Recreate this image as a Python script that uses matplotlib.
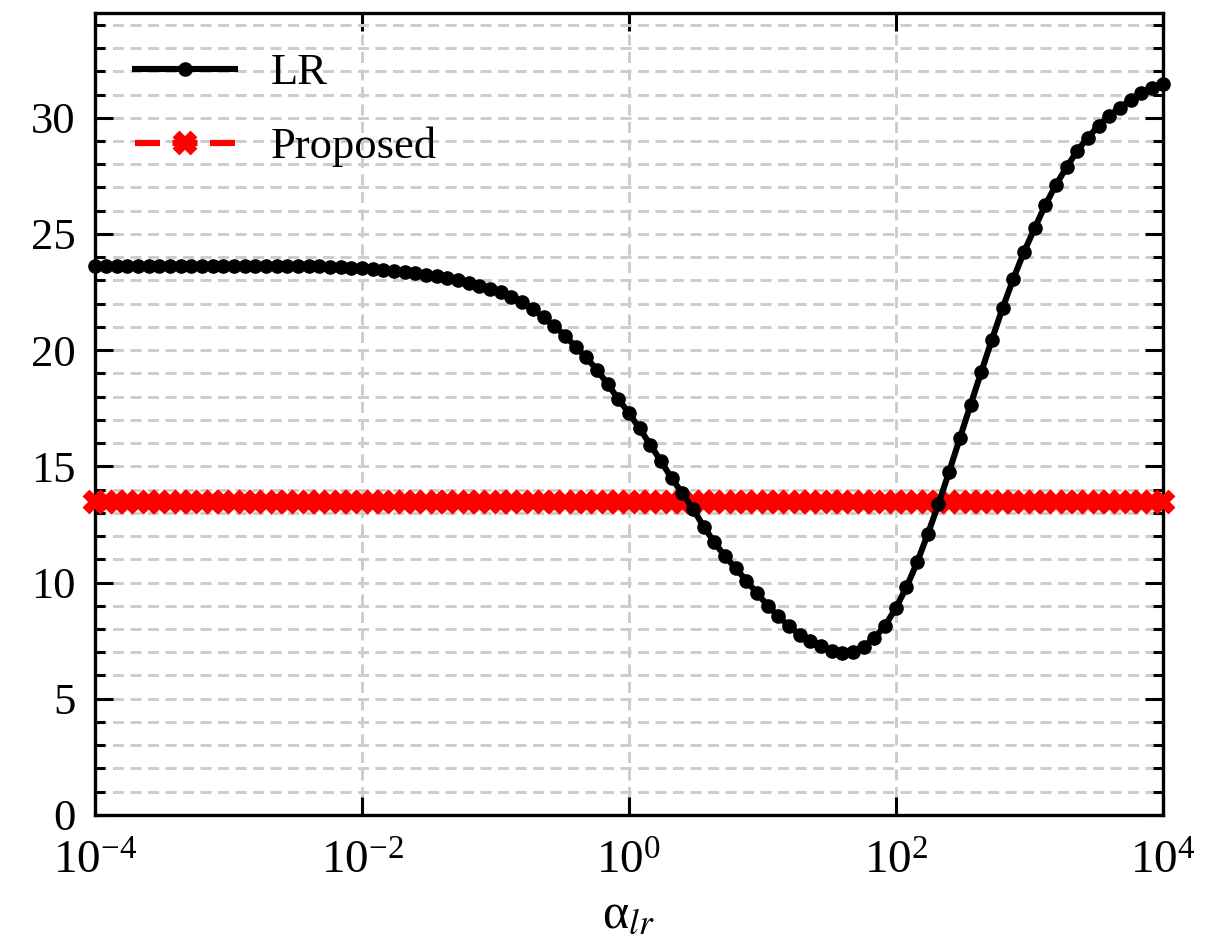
import numpy as np
import matplotlib
matplotlib.use("Agg")
import matplotlib.pyplot as plt
from matplotlib.ticker import MultipleLocator, NullLocator

# fonts: Times-like serif everywhere, stix for the math bits
plt.rcParams['font.family'] = ['Liberation Serif', 'DejaVu Serif']
plt.rcParams['mathtext.fontset'] = 'stix'

# alpha_lr sweep, 101 log-spaced points from 1e-4 to 1e4
alpha_lr = np.logspace(-4, 4, 101)

lr_values = [
    23.64, 23.64, 23.64, 23.64, 23.64, 23.64, 23.64, 23.64, 23.64, 23.64,
    23.64, 23.64, 23.64, 23.64, 23.64, 23.64, 23.63, 23.63, 23.63, 23.62,
    23.61, 23.60, 23.58, 23.56, 23.54, 23.52, 23.49, 23.45, 23.41, 23.36,
    23.31, 23.25, 23.18, 23.11, 23.01, 22.90, 22.78, 22.63, 22.49, 22.27,
    22.06, 21.77, 21.41, 21.05, 20.62, 20.15, 19.69, 19.15, 18.55, 17.90,
    17.29, 16.63, 15.93, 15.22, 14.49, 13.84, 13.17, 12.41, 11.73, 11.13,
    10.62, 10.08, 9.54, 9.01, 8.55, 8.12, 7.75, 7.47, 7.26, 7.04,
    6.97, 7.02, 7.24, 7.61, 8.15, 8.89, 9.80, 10.87, 12.09, 13.38,
    14.77, 16.21, 17.64, 19.05, 20.45, 21.80, 23.06, 24.21, 25.24, 26.24,
    27.11, 27.87, 28.58, 29.15, 29.66, 30.09, 30.44, 30.77, 31.06, 31.26,
    31.45,
]
proposed_value = 13.45
proposed_values = [proposed_value] * len(alpha_lr)

x_ticks = [1e-4, 1e-2, 1e0, 1e2, 1e4]
y_ticks = [0, 5, 10, 15, 20, 25, 30]

fig = plt.figure(figsize=(12.2, 9.41), dpi=100)
ax = fig.add_axes([0.078, 0.134, 0.875, 0.852])

ax.plot(alpha_lr, lr_values, color='black', lw=4.4, marker='o', ms=9.5,
        label='LR', clip_on=False, zorder=4)
ax.plot(alpha_lr, proposed_values, color='red', lw=4.5, ls=(0, (4, 2)), marker='x',
        ms=12.5, mew=7, label='Proposed', clip_on=False, zorder=3)

ax.set_xscale('log')
ax.set_xlim(1e-4, 1e4)
ax.set_ylim(0, 34.5)
ax.set_xticks(x_ticks)
ax.xaxis.set_minor_locator(NullLocator())
ax.set_yticks(y_ticks)
ax.yaxis.set_minor_locator(MultipleLocator(1))

# grid: dashed light grey, every unit on y
ax.grid(which='major', axis='both', color='#cccccc', ls=(0, (3.8, 2.2)), lw=2.1)
ax.grid(which='minor', axis='y', color='#cccccc', ls=(0, (3.8, 2.2)), lw=2.1)
ax.set_axisbelow(True)

for sp in ax.spines.values():
    sp.set_linewidth(2.4)

ax.tick_params(which='both', direction='in', top=True, right=True, width=2.2)
ax.tick_params(which='major', length=13)
ax.tick_params(which='minor', length=7)
ax.tick_params(axis='x', pad=19, labelsize=34)
ax.tick_params(axis='y', pad=14, labelsize=32)

ax.set_xlabel(r'α$_{lr}$', fontsize=36, labelpad=6)

ax.legend(loc='upper left', fontsize=32, frameon=False, handlelength=2.25,
          handletextpad=0.8, labelspacing=0.75)

fig.savefig('out.png', dpi=100)
